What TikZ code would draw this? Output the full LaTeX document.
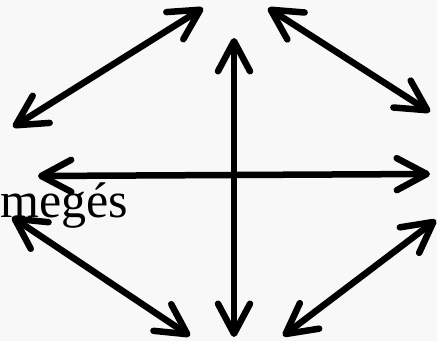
\documentclass[tikz,border=0pt]{standalone}
\usepackage{fontspec}
\setmainfont{Liberation Serif}
\usetikzlibrary{arrows.meta}
\definecolor{bg}{RGB}{248,248,248}
\begin{document}
\begin{tikzpicture}[x=1pt,y=1pt,
  dbl/.style={line width=6.5pt,{Straight Barb[length=30pt,width=32pt,round]}-{Straight Barb[length=30pt,width=32pt,round]}}]
\fill[bg] (0,0) rectangle (437,341);
\useasboundingbox (0,0) rectangle (437,341);
\node[anchor=base west,inner sep=0pt,font=\fontsize{50}{60}\selectfont] (lbl) at (0,124) {megés};
\coordinate (a1) at (13,214); \coordinate (a2) at (203,333);
\coordinate (b1) at (268,333); \coordinate (b2) at (430,229);
\coordinate (v1) at (234,303); \coordinate (v2) at (234,4);
\coordinate (h1) at (38,165); \coordinate (h2) at (430,167);
\coordinate (c1) at (12,124); \coordinate (c2) at (190,5);
\coordinate (d1) at (283,5); \coordinate (d2) at (436,121);
\draw[dbl] (a1) -- (a2);
\draw[dbl] (b1) -- (b2);
\draw[dbl] (v1) -- (v2);
\draw[dbl] (h1) -- (h2);
\draw[dbl] (c1) -- (c2);
\draw[dbl] (d1) -- (d2);
\end{tikzpicture}
\end{document}
